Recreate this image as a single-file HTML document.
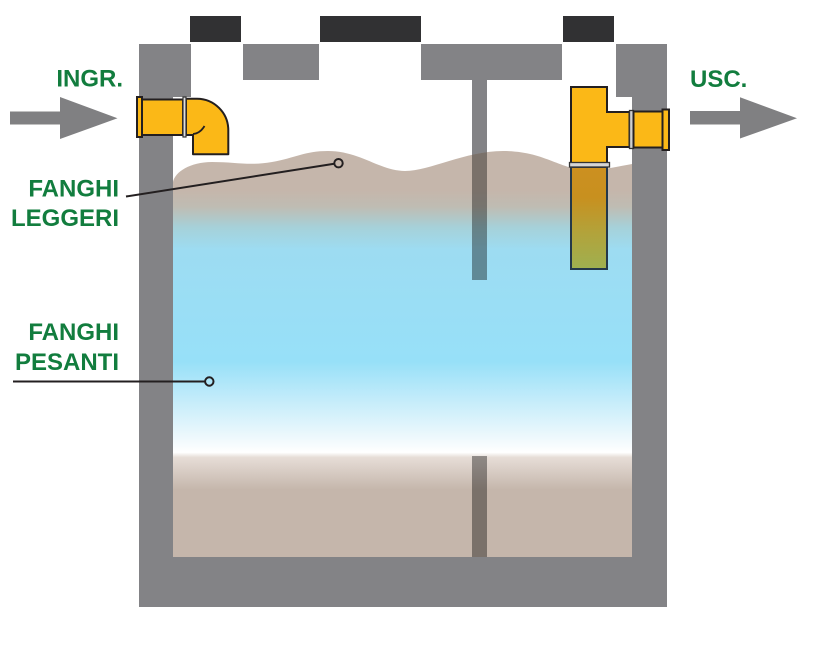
<!DOCTYPE html>
<html>
<head>
<meta charset="utf-8">
<style>
  html, body { margin: 0; padding: 0; background: #ffffff; }
  svg { display: block; }
  text { font-family: "Liberation Sans", Arial, sans-serif; font-weight: bold; fill: #127d3e; font-size: 24px; }
</style>
</head>
<body>
<svg width="814" height="648" viewBox="0 0 814 648" xmlns="http://www.w3.org/2000/svg">
  <defs>
    <linearGradient id="water" x1="0" y1="150" x2="0" y2="557" gradientUnits="userSpaceOnUse">
      <stop offset="0" stop-color="#c5b6ab"/>
      <stop offset="0.10" stop-color="#c5b6ab"/>
      <stop offset="0.14" stop-color="#bfbcb3"/>
      <stop offset="0.19" stop-color="#a6d1d9"/>
      <stop offset="0.245" stop-color="#9ddcf2"/>
      <stop offset="0.52" stop-color="#97e0f8"/>
      <stop offset="0.615" stop-color="#c4ecfa"/>
      <stop offset="0.715" stop-color="#f2fafd"/>
      <stop offset="0.743" stop-color="#ffffff"/>
      <stop offset="0.755" stop-color="#e6ddd7"/>
      <stop offset="0.835" stop-color="#c5b6ab"/>
      <stop offset="1" stop-color="#c5b6ab"/>
    </linearGradient>
    <linearGradient id="subpipe" x1="0" y1="167" x2="0" y2="269" gradientUnits="userSpaceOnUse">
      <stop offset="0" stop-color="#cc9020"/>
      <stop offset="0.3" stop-color="#c8901f"/>
      <stop offset="0.65" stop-color="#b2a33b"/>
      <stop offset="1" stop-color="#9fb050"/>
    </linearGradient>
    <clipPath id="wclip">
      <path d="M173,182 C175,172 190,162 212,162 C235,162 250,166 272,162 C295,158 305,151 328,151 C360,151 380,171 405,171 C430,171 465,151 503,151 C545,151 560,170 588,170 C605,170 620,166 632,164 L632,557 L173,557 Z"/>
    </clipPath>
  </defs>

  <!-- dark top blocks -->
  <rect x="190" y="16" width="51" height="26" fill="#313133"/>
  <rect x="320" y="16" width="101" height="26" fill="#313133"/>
  <rect x="563" y="16" width="51" height="26" fill="#313133"/>

  <!-- tank walls -->
  <path d="M139,44 L191,44 L191,97 L173,97 L173,557 L632,557 L632,97 L616,97 L616,44 L667,44 L667,607 L139,607 Z" fill="#838386"/>
  <rect x="243" y="44" width="76" height="36" fill="#838386"/>
  <rect x="421" y="44" width="141" height="36" fill="#838386"/>
  <rect x="472" y="80" width="15" height="200" fill="#838386"/>

  <!-- water / sludge -->
  <path d="M173,182 C175,172 190,162 212,162 C235,162 250,166 272,162 C295,158 305,151 328,151 C360,151 380,171 405,171 C430,171 465,151 503,151 C545,151 560,170 588,170 C605,170 620,166 632,164 L632,557 L173,557 Z" fill="url(#water)"/>

  <!-- stems through water (darkened) -->
  <g clip-path="url(#wclip)">
    <rect x="472" y="80" width="15" height="200" fill="#000" fill-opacity="0.38"/>
    <rect x="472" y="456" width="15" height="101" fill="#000" fill-opacity="0.38"/>
  </g>

  <!-- outlet T pipe -->
  <rect x="571" y="167" width="36" height="102" fill="url(#subpipe)" stroke="#24384a" stroke-width="2"/>
  <path d="M571,87 L607,87 L607,112 L629.5,112 L629.5,147 L607,147 L607,163 L571,163 Z" fill="#fbb817" stroke="#231f20" stroke-width="2" stroke-linejoin="miter"/>
  <rect x="569.5" y="162.5" width="40" height="4.5" fill="#d6d6d6" stroke="#333" stroke-width="1.3"/>
  <rect x="629.5" y="110.5" width="4" height="38" fill="#cfcfcf" stroke="#333" stroke-width="1.3"/>
  <rect x="633.5" y="111.5" width="29" height="36" fill="#fbb817" stroke="#231f20" stroke-width="2"/>
  <rect x="662.5" y="109.5" width="6.5" height="40.5" fill="#fbb817" stroke="#231f20" stroke-width="2"/>

  <!-- inlet pipe -->
  <rect x="137" y="97" width="5" height="40" fill="#fbb817" stroke="#231f20" stroke-width="2"/>
  <rect x="142" y="99.5" width="41" height="35.5" fill="#fbb817" stroke="#231f20" stroke-width="2"/>
  <path d="M186,98.7 L197,98.7 A31.5 31.5 0 0 1 228.3,130 L228.3,154.3 L193,154.3 L193,135 L186,135 Z" fill="#fbb817" stroke="#231f20" stroke-width="2" stroke-linejoin="round"/>
  <rect x="183" y="97" width="3" height="40" fill="#dedede" stroke="#333" stroke-width="1.2"/>
  <path d="M193,134 Q200,133.5 204.5,126" fill="none" stroke="#231f20" stroke-width="1.8"/>

  <!-- arrows -->
  <path d="M10,111.5 L60,111.5 L60,97 L117.5,118.3 L60,139 L60,124.5 L10,124.5 Z" fill="#808082"/>
  <path d="M690,111 L740,111 L740,97.3 L797,118.3 L740,138.5 L740,124.5 L690,124.5 Z" fill="#808082"/>

  <!-- leader lines -->
  <line x1="126" y1="196.5" x2="334.2" y2="163.8" stroke="#231f20" stroke-width="2"/>
  <circle cx="338.5" cy="163.2" r="4.2" fill="none" stroke="#231f20" stroke-width="2"/>
  <line x1="13" y1="381.5" x2="205" y2="381.5" stroke="#231f20" stroke-width="2"/>
  <circle cx="209.3" cy="381.5" r="4.2" fill="none" stroke="#231f20" stroke-width="2"/>

  <!-- labels -->
  <text x="123" y="86.7" text-anchor="end">INGR.</text>
  <text x="690" y="87">USC.</text>
  <text x="119" y="196.5" text-anchor="end">FANGHI</text>
  <text x="119" y="226" text-anchor="end">LEGGERI</text>
  <text x="119" y="340" text-anchor="end">FANGHI</text>
  <text x="119" y="370" text-anchor="end">PESANTI</text>
</svg>
</body>
</html>
